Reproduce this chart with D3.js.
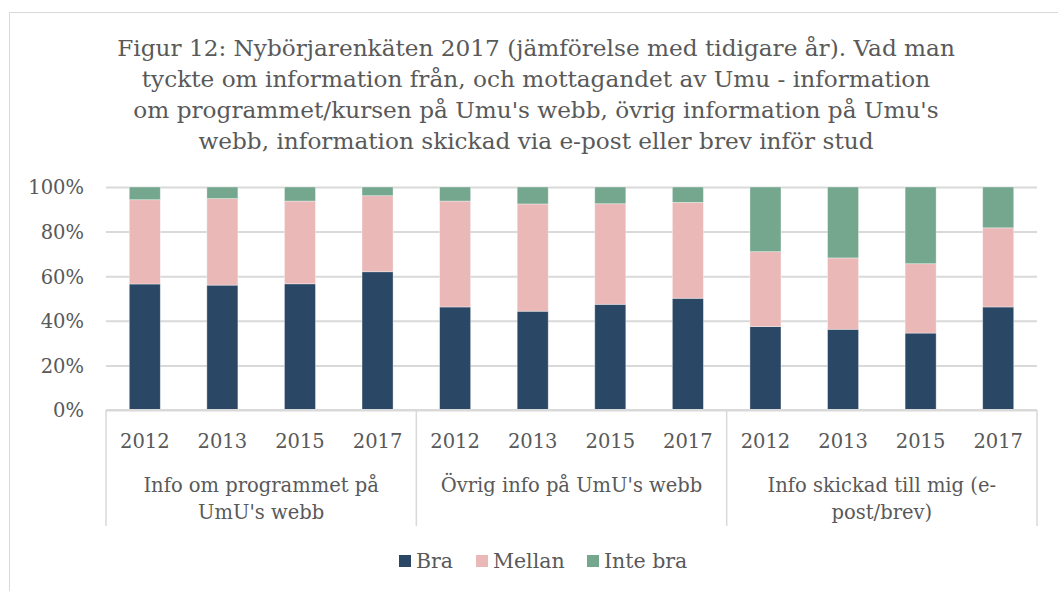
<!DOCTYPE html>
<html>
<head>
<meta charset="utf-8">
<script src="https://cdn.jsdelivr.net/npm/d3@7"></script>
<style>
  body { margin: 0; background: #fff; }
  text { font-family: "DejaVu Serif", serif; fill: #595959; }
</style>
</head>
<body>
<div id="chart"></div>
<script>
// values (percent)
var years = ["2012", "2013", "2015", "2017"];
var groups = ["Info om programmet på UmU's webb", "Övrig info på UmU's webb", "Info skickad till mig (e-post/brev)"];
var groupLines = [["Info om programmet på", "UmU's webb"], ["Övrig info på UmU's webb"], ["Info skickad till mig (e-", "post/brev)"]];
var bra     = [56.5, 56.0, 56.6, 62.0, 46.2, 44.3, 47.4, 50.1, 37.4, 36.2, 34.5, 46.2];
var mellan  = [37.8, 38.8, 37.1, 34.1, 47.5, 48.1, 45.1, 43.0, 33.6, 32.0, 31.1, 35.5];
var inteBra = [5.7, 5.2, 6.3, 3.9, 6.3, 7.6, 7.5, 6.9, 29.0, 31.8, 34.4, 18.3];
var seriesNames = ["Bra", "Mellan", "Inte bra"];
var colors = ["#2a4765", "#e9b8b7", "#74a78e"];
var yTicks = [0, 20, 40, 60, 80, 100];
var titleLines = [
  "Figur 12: Nybörjarenkäten 2017 (jämförelse med tidigare år). Vad man",
  "tyckte om information från, och mottagandet av Umu - information",
  "om programmet/kursen på Umu's webb, övrig information på Umu's",
  "webb, information skickad via e-post eller brev inför stud"
];

var svgWidth = 1058, svgHeight = 591;
var margin = {top: 187, right: 21, bottom: 181, left: 106};
var width = svgWidth - margin.left - margin.right;
var height = svgHeight - margin.top - margin.bottom;

var svg = d3.select("#chart").append("svg")
  .attr("width", svgWidth)
  .attr("height", svgHeight);

// chart area border (only top and left visible in the crop)
svg.append("path")
  .attr("d", "M9.5,591 L9.5,12.5 L1058,12.5")
  .attr("fill", "none")
  .attr("stroke", "#d9d9d9")
  .attr("stroke-width", 1);

// title
svg.append("g").selectAll("text")
  .data(titleLines)
  .enter().append("text")
  .attr("x", 536)
  .attr("y", (d, i) => 56 + i * 31)
  .attr("text-anchor", "middle")
  .attr("font-size", 23.2)
  .text(d => d);

var chartGroup = svg.append("g")
  .attr("transform", `translate(${margin.left}, ${margin.top})`);

// build rows for stacking
var rows = [];
groups.forEach(function(g, gi) {
  years.forEach(function(y, yi) {
    var i = gi * years.length + yi;
    rows.push({key: gi + "|" + y, group: gi, year: y, "Bra": bra[i], "Mellan": mellan[i], "Inte bra": inteBra[i]});
  });
});

var xScale = d3.scaleBand()
  .domain(rows.map(d => d.key))
  .range([0, width])
  .paddingInner(0.6)
  .paddingOuter(0.3);

var yScale = d3.scaleLinear()
  .domain([0, 100])
  .range([height, 0]);

// gridlines + y labels
var leftAxis = d3.axisLeft(yScale)
  .tickValues(yTicks)
  .tickSize(-width)
  .tickFormat(d => d + "%");

var yAxisG = chartGroup.append("g").call(leftAxis);
yAxisG.select(".domain").remove();
yAxisG.selectAll("line").attr("stroke", "#d9d9d9").attr("stroke-width", 2);
yAxisG.selectAll("text")
  .attr("x", -22)
  .attr("dy", "0.35em")
  .attr("font-size", 19.5)
  .style("font-family", "'DejaVu Serif', serif")
  .attr("fill", "#595959");

// stacked bars
var stack = d3.stack().keys(seriesNames);
var stacked = stack(rows);

chartGroup.selectAll("g.series")
  .data(stacked)
  .enter().append("g")
  .attr("class", "series")
  .attr("fill", (d, i) => colors[i])
  .selectAll("rect")
  .data(d => d)
  .enter().append("rect")
  .attr("x", d => xScale(d.data.key))
  .attr("y", d => yScale(d[1]))
  .attr("width", xScale.bandwidth())
  .attr("height", d => yScale(d[0]) - yScale(d[1]))
  .attr("stroke", "rgba(255,255,255,0.45)")
  .attr("stroke-width", 0.8);

// bottom axis line
var groupWidth = width / groups.length;
chartGroup.append("line")
  .attr("x1", 0).attr("x2", width)
  .attr("y1", height).attr("y2", height)
  .attr("stroke", "#d9d9d9").attr("stroke-width", 2);

// group separators for multi-level axis
chartGroup.selectAll("line.sep")
  .data(d3.range(groups.length + 1))
  .enter().append("line")
  .attr("class", "sep")
  .attr("x1", i => i * groupWidth).attr("x2", i => i * groupWidth)
  .attr("y1", height).attr("y2", height + 116)
  .attr("stroke", "#d9d9d9").attr("stroke-width", 1.5);

// year labels
chartGroup.selectAll("text.year")
  .data(rows)
  .enter().append("text")
  .attr("class", "year")
  .attr("x", d => xScale(d.key) + xScale.bandwidth() / 2)
  .attr("y", height + 38)
  .attr("text-anchor", "middle")
  .attr("font-size", 19.5)
  .text(d => d.year);

// group labels
groupLines.forEach(function(lines, gi) {
  chartGroup.append("text")
    .attr("text-anchor", "middle")
    .attr("font-size", 19.5)
    .selectAll("tspan")
    .data(lines)
    .enter().append("tspan")
    .attr("x", (gi + 0.5) * groupWidth)
    .attr("y", (d, i) => height + 82 + i * 27)
    .text(d => d);
});

// legend
var legendX = [399, 476, 587];
var legend = svg.append("g");
seriesNames.forEach(function(name, i) {
  legend.append("rect")
    .attr("x", legendX[i]).attr("y", 555)
    .attr("width", 12).attr("height", 12)
    .attr("fill", colors[i]);
  legend.append("text")
    .attr("x", legendX[i] + 17).attr("y", 568)
    .attr("font-size", 20.5)
    .text(name);
});
</script>
</body>
</html>
